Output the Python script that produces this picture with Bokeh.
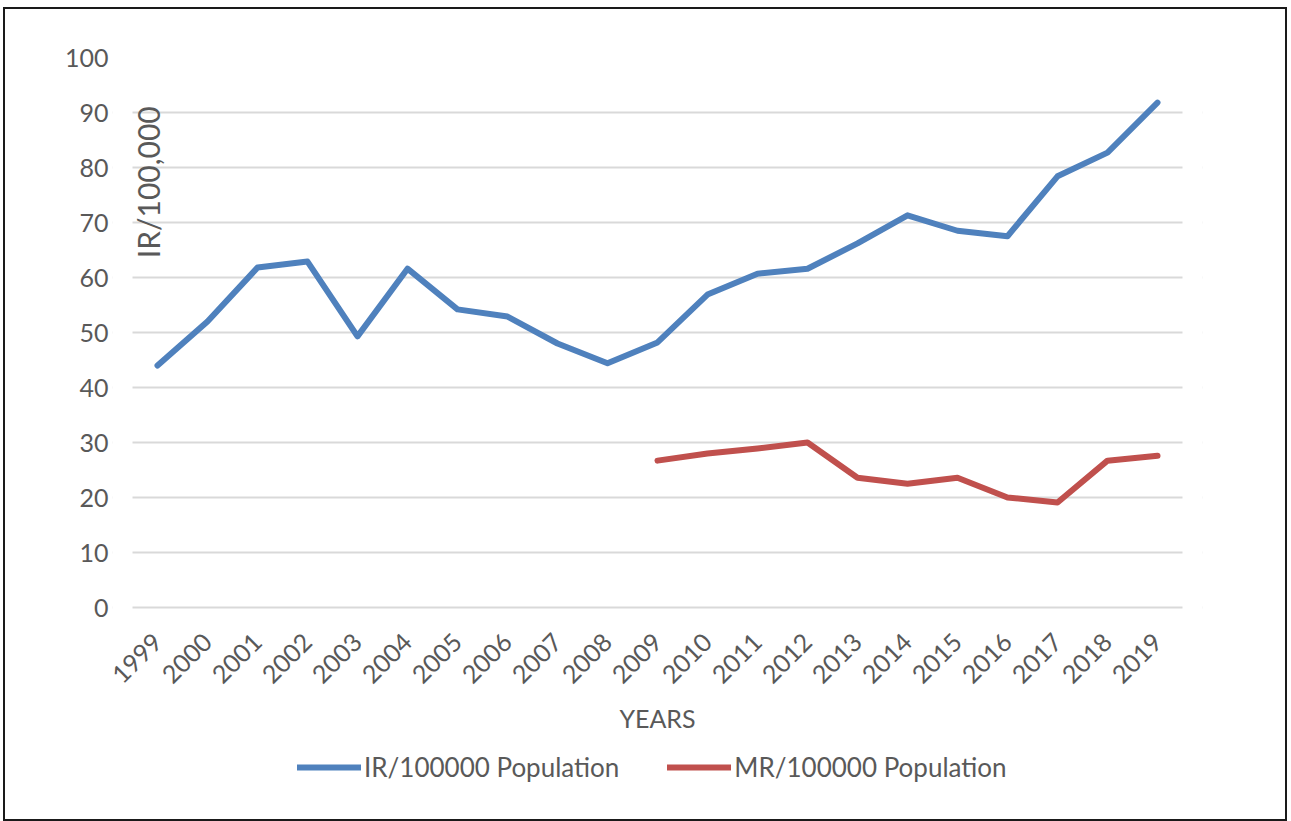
import math
from bokeh.plotting import figure
from bokeh.models import (FactorRange, Range1d, FixedTicker, Legend, LegendItem,
                          Label, BoxAnnotation)
from bokeh.embed import file_html
from bokeh.resources import INLINE

years = [str(y) for y in range(1999, 2020)]
ir_values = [44.0, 52.0, 61.8, 62.9, 49.3, 61.6, 54.2, 52.9, 48.0, 44.4, 48.2,
             56.9, 60.7, 61.6, 66.2, 71.3, 68.5, 67.5, 78.4, 82.7, 91.8]
mr_years = [str(y) for y in range(2009, 2020)]
mr_values = [26.7, 28.0, 28.9, 30.0, 23.6, 22.5, 23.6, 20.0, 19.1, 26.7, 27.6]
y_ticks = [0, 10, 20, 30, 40, 50, 60, 70, 80, 90, 100]

FONT = "Lato"
GREY = "#595959"

# frame extends below the value axis (tick labels, axis title, legend live inside it)
# and a little to the left/right so the rotated first label is not clipped
PX_PER_UNIT = 5.5
BELOW_PX = 200
SIDE_PAD = 0.4  # category units on each side (20 px)
p = figure(x_range=FactorRange(factors=years, range_padding=SIDE_PAD,
                               range_padding_units="absolute"),
           y_range=Range1d(-BELOW_PX / PX_PER_UNIT, 100),
           frame_width=1090, frame_height=550 + BELOW_PX,
           min_border_left=107, min_border_right=83,
           min_border_top=48, min_border_bottom=12,
           output_backend="svg", toolbar_location=None)
p.styles = {"border": "2px solid #1a1a1a", "margin-left": "3px", "margin-top": "7px"}
p.outline_line_color = None
p.background_fill_color = "white"
p.border_fill_color = "white"

# grid
p.xgrid.grid_line_color = None
p.ygrid.grid_line_color = "#d9d9d9"
p.ygrid.grid_line_width = 2
p.yaxis.ticker = FixedTicker(ticks=y_ticks)

# white masks so the gridlines span only the category area
for kw in (dict(right=0), dict(left=len(years))):
    p.add_layout(BoxAnnotation(top=101, bottom=-1, fill_color="white", fill_alpha=1,
                               line_color=None, level="glyph", **kw))

# axes
for ax in (p.xaxis[0], p.yaxis[0]):
    ax.axis_line_color = None
    ax.major_tick_line_color = None
    ax.minor_tick_line_color = None
    ax.major_tick_out = 0
    ax.major_tick_in = 0
    ax.major_label_text_color = GREY
    ax.major_label_text_font = FONT

p.yaxis.major_label_text_font_size = "25px"
p.yaxis.major_label_standoff = 4

p.xaxis.fixed_location = 0
p.xaxis.major_label_text_font_size = "25px"
p.xaxis.major_label_orientation = math.pi / 4
p.xaxis.major_label_standoff = 30
p.xaxis.axis_label = "YEARS"
p.xaxis.axis_label_text_font = FONT
p.xaxis.axis_label_text_font_size = "25px"
p.xaxis.axis_label_text_font_style = "normal"
p.xaxis.axis_label_text_color = GREY
p.xaxis.axis_label_standoff = 9

r_ir = p.line(years, ir_values, line_color="#4F81BD", line_width=6,
              line_join="round", line_cap="round")
r_mr = p.line(mr_years, mr_values, line_color="#C0504D", line_width=6,
              line_join="round", line_cap="round")

ylab = Label(x=0.31, y=63.5, text="IR/100,000", angle=math.pi / 2,
             text_align="left", text_baseline="middle",
             text_font=FONT, text_font_size="30px", text_color=GREY)
p.add_layout(ylab)

legend = Legend(items=[LegendItem(label="IR/100000 Population", renderers=[r_ir]),
                       LegendItem(label="MR/100000 Population", renderers=[r_mr])],
                orientation="horizontal", location=(185, 24),
                glyph_width=64, glyph_height=26, label_height=26,
                label_standoff=3, spacing=48, padding=0, margin=0,
                label_text_font=FONT, label_text_font_size="26px",
                label_text_color=GREY, background_fill_alpha=0,
                border_line_color=None)
p.add_layout(legend)

html = file_html(p, INLINE)
open("out.html", "w").write(html)
